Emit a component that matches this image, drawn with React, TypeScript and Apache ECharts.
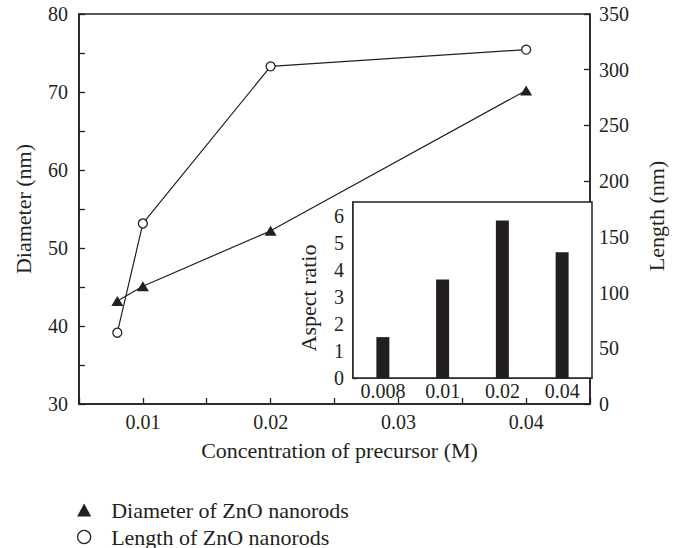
import React, { useEffect, useRef } from "react";
import * as echarts from "echarts";

const concentrations = [0.008, 0.01, 0.02, 0.04];
const diameterNm = [43.2, 45.1, 52.2, 70.2];
const lengthNm = [64, 162, 303, 318];
const aspectCategories = ["0.008", "0.01", "0.02", "0.04"];
const aspectRatio = [1.51, 3.64, 5.82, 4.64];

const FONT = "Liberation Serif";
const INK = "#231f20";

export default function App() {
  const ref = useRef<HTMLDivElement>(null);
  useEffect(() => {
    if (!ref.current) return;
    const chart = echarts.init(ref.current, undefined, { renderer: "svg" });
    const axisLine = { show: true, lineStyle: { color: INK, width: 1.5 } };
    const tick = (len: number) => ({ show: true, inside: true, length: len, lineStyle: { color: INK, width: 1.3 } });
    const lbl = { fontFamily: FONT, fontSize: 20, color: INK };
    const nameStyle = { fontFamily: FONT, fontSize: 22, color: INK };
    chart.setOption({
      animation: false,
      backgroundColor: "#fff",
      textStyle: { fontFamily: FONT },
      grid: [
        { left: 79, top: 14, right: 68, bottom: 144, show: true, borderColor: INK, borderWidth: 1.5 },
        { left: 353, top: 202, width: 239, height: 176, show: true, borderColor: INK, borderWidth: 1.5, backgroundColor: "#fff", z: 5 },
      ],
      legend: {
        orient: "vertical",
        left: 77,
        top: 499,
        height: 60,
        padding: 0,
        itemWidth: 14,
        itemHeight: 13,
        itemGap: 5,
        textStyle: { fontFamily: FONT, fontSize: 22, color: INK, padding: [0, 0, 0, 15] },
        data: [
          { name: "Diameter of ZnO nanorods", icon: "triangle", itemStyle: { color: INK } },
          { name: "Length of ZnO nanorods", icon: "circle", itemStyle: { color: "#fff", borderColor: INK, borderWidth: 1.3 } },
        ],
      },
      xAxis: [
        {
          type: "value",
          gridIndex: 0,
          min: 0.005,
          max: 0.045,
          interval: 0.005,
          name: "Concentration of precursor (M)",
          nameLocation: "middle",
          nameGap: 35,
          nameTextStyle: { ...nameStyle, padding: [0, 0, 0, 10] },
          axisLine,
          axisTick: tick(6),
          splitLine: { show: false },
          axisLabel: {
            ...lbl,
            margin: 8,
            formatter: (v: number) => {
              const k = Math.round(v * 1000);
              return k % 10 === 0 && k > 5 && k < 45 ? String(k / 1000) : "";
            },
          },
        },
        {
          type: "category",
          gridIndex: 1,
          data: aspectCategories,
          boundaryGap: true,
          axisLine,
          axisTick: { show: false },
          axisLabel: { ...lbl, margin: 3 },
          splitLine: { show: false },
        },
      ],
      yAxis: [
        {
          type: "value",
          gridIndex: 0,
          min: 30,
          max: 80,
          interval: 5,
          name: "Diameter (nm)",
          nameLocation: "middle",
          nameRotate: 90,
          nameGap: 45,
          nameTextStyle: nameStyle,
          axisLine,
          axisTick: tick(6),
          splitLine: { show: false },
          axisLabel: { ...lbl, margin: 11, formatter: (v: number) => (v % 10 === 0 ? String(v) : "") },
        },
        {
          type: "value",
          gridIndex: 0,
          position: "right",
          min: 0,
          max: 350,
          interval: 50,
          name: "Length (nm)",
          nameLocation: "middle",
          nameRotate: 90,
          nameGap: 55,
          nameTextStyle: { ...nameStyle, padding: [0, 14, 0, 0] },
          axisLine,
          axisTick: tick(6),
          splitLine: { show: false },
          axisLabel: { ...lbl, margin: 9 },
        },
        {
          type: "value",
          gridIndex: 1,
          min: 0,
          max: 6.5,
          interval: 0.5,
          name: "Aspect ratio",
          nameLocation: "middle",
          nameRotate: 90,
          nameGap: 34,
          nameTextStyle: { ...nameStyle, padding: [0, 16, 0, 0] },
          axisLine,
          axisTick: tick(4),
          splitLine: { show: false },
          axisLabel: {
            ...lbl,
            margin: 9,
            formatter: (v: number) => (Math.abs(v - Math.round(v)) < 1e-6 ? String(Math.round(v)) : ""),
          },
        },
      ],
      series: [
        {
          name: "Diameter of ZnO nanorods",
          type: "line",
          xAxisIndex: 0,
          yAxisIndex: 0,
          data: concentrations.map((c, i) => [c, diameterNm[i]]),
          symbol: "triangle",
          symbolSize: [12, 10],
          itemStyle: { color: INK },
          lineStyle: { color: INK, width: 1.2 },
        },
        {
          name: "Length of ZnO nanorods",
          type: "line",
          xAxisIndex: 0,
          yAxisIndex: 1,
          data: concentrations.map((c, i) => [c, lengthNm[i]]),
          symbol: "circle",
          symbolSize: 9,
          itemStyle: { color: "#fff", borderColor: INK, borderWidth: 1.3 },
          lineStyle: { color: INK, width: 1.2 },
        },
        {
          name: "Aspect ratio",
          type: "bar",
          xAxisIndex: 1,
          yAxisIndex: 2,
          data: aspectRatio,
          barWidth: 13,
          itemStyle: { color: INK },
          z: 6,
        },
      ],
    });
    return () => chart.dispose();
  }, []);
  return (
    <div
      ref={ref}
      style={{ position: "fixed", left: 0, top: 0, width: 675, height: 548, background: "#fff" }}
    />
  );
}
